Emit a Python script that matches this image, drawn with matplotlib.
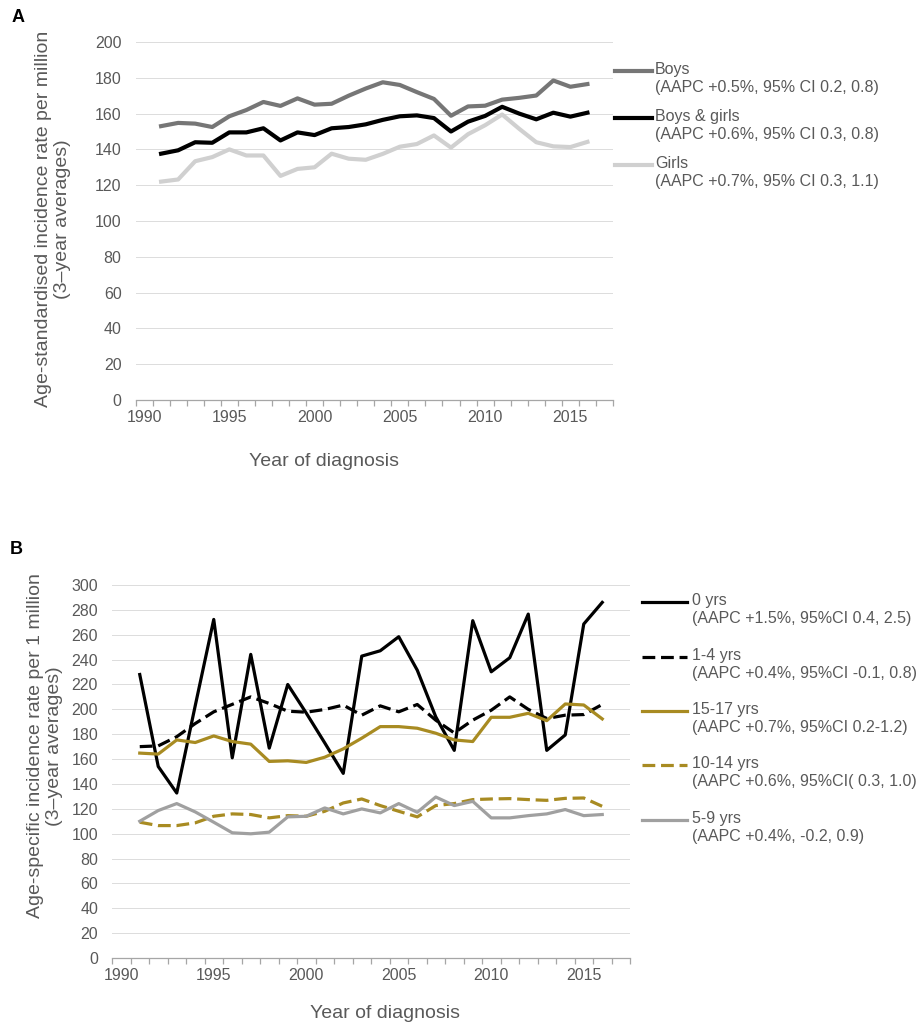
import numpy as np
import matplotlib
matplotlib.use("Agg")
import matplotlib.pyplot as plt
from matplotlib.lines import Line2D

plt.rcParams['font.family'] = ['Liberation Sans', 'DejaVu Sans']

# ----------------------------------------------------------------------
# data: 3-year average incidence rates per million, 1991-2016

years = list(range(1991, 2017))

boys = [153, 154.8, 154.4, 152.5, 158.5, 162, 166.5, 164.3, 168.5, 165,
        165.5, 170, 174, 177.5, 176, 172, 168.2, 158.8, 164, 164.4,
        167.8, 168.8, 170.1, 178.5, 175, 176.5]
boys_girls = [137.6, 139.5, 144, 143.7, 149.5, 149.5, 151.8, 145, 149.5, 148,
              151.8, 152.5, 154, 156.5, 158.5, 159, 157.5, 150, 155.5, 158.7,
              163.8, 160, 156.8, 160.5, 158.3, 160.5]
girls = [122, 123.2, 133.4, 135.7, 140, 136.6, 136.6, 125.2, 129.1, 130,
         137.6, 134.8, 134.2, 137.5, 141.5, 143, 147.8, 141, 148.5, 153.5,
         159.5, 151.5, 144, 141.7, 141.3, 144.2]

age_0 = [228, 154, 132.7, 203, 272.3, 161, 244.2, 168.8, 220, 197,
         173, 148.5, 242.8, 247.1, 258.4, 231.5, 194, 167, 271.3, 230.2,
         241.5, 276.6, 167, 179.4, 268.6, 286]
age_1_4 = [170, 170.6, 178, 188.6, 198, 204, 210, 204.7, 198.5, 197.7,
           199.9, 203.4, 195.3, 202.8, 198, 203.9, 191.3, 181, 191.3, 199.3,
           210, 200, 192.6, 195.3, 195.8, 203.9]
age_15_17 = [164.8, 164, 175.4, 173.3, 178.6, 174.1, 172, 158.1, 158.6, 157.3,
             161.5, 168.2, 176.8, 186.1, 186.1, 184.8, 180.8, 175.4, 174.1, 193.6,
             193.6, 196.8, 190.9, 204.3, 203.5, 192.3]
age_10_14 = [109.2, 106.5, 106.5, 108.7, 114, 115.9, 115.4, 112.7, 114.5, 114,
             118, 124.7, 127.9, 122.6, 118, 113.5, 122.6, 124.2, 127.4, 127.9,
             128.2, 127.4, 126.8, 128.4, 128.7, 122]
age_5_9 = [110, 118.6, 124.2, 117.5, 109.2, 100.7, 99.9, 101.2, 113.5, 114,
           120.7, 115.9, 119.9, 116.7, 124.2, 117.2, 129.5, 122.6, 126, 112.7,
           112.7, 114.5, 115.9, 119.4, 114.5, 115.4]

labels_a = ["Boys\n(AAPC +0.5%, 95% CI 0.2, 0.8)",
            "Boys & girls\n(AAPC +0.6%, 95% CI 0.3, 0.8)",
            "Girls\n(AAPC +0.7%, 95% CI 0.3, 1.1)"]
labels_b = ["0 yrs\n(AAPC +1.5%, 95%CI 0.4, 2.5)",
            "1-4 yrs\n(AAPC +0.4%, 95%CI -0.1, 0.8)",
            "15-17 yrs\n(AAPC +0.7%, 95%CI 0.2-1.2)",
            "10-14 yrs\n(AAPC +0.6%, 95%CI( 0.3, 1.0)",
            "5-9 yrs\n(AAPC +0.4%, -0.2, 0.9)"]

# ----------------------------------------------------------------------

W, H = 917, 1025
GREY_TXT = '#595959'
GOLD = '#a88b22'

fig = plt.figure(figsize=(W / 100, H / 100), dpi=100)


def fx(px):
    return px / W


def fy(py):
    return 1 - py / H


def style_axis(ax, ymax, ystep):
    ax.set_xlim(1989.5, 2017.5)
    ax.set_ylim(0, ymax)
    ax.set_yticks(range(0, ymax + 1, ystep))
    ax.yaxis.grid(True, color='#dcdcdc', lw=0.7)
    ax.set_axisbelow(True)
    for s in ['top', 'right', 'left']:
        ax.spines[s].set_visible(False)
    ax.spines['bottom'].set_color('#a6a6a6')
    ax.spines['bottom'].set_linewidth(0.9)
    # tick marks between categories, labels on the years
    ax.set_xticks(np.arange(1989.5, 2018, 1))
    ax.set_xticklabels([])
    ax.set_xticks(range(1990, 2016, 5), minor=True)
    ax.set_xticklabels([str(y) for y in range(1990, 2016, 5)], minor=True)
    ax.tick_params(axis='x', which='major', length=4, color='#a6a6a6', width=0.9)
    ax.tick_params(axis='x', which='minor', length=0, pad=7,
                   labelsize=11.5, labelcolor=GREY_TXT)
    ax.tick_params(axis='y', length=0, pad=10, labelsize=11.5, labelcolor=GREY_TXT)


def legend_rows(x0, x1, xt, rows, styles, labels, lw):
    for y, (color, ls), lab in zip(rows, styles, labels):
        fig.add_artist(Line2D([fx(x0), fx(x1)], [fy(y), fy(y)], color=color,
                              lw=lw, linestyle=ls, transform=fig.transFigure))
        fig.text(fx(xt), fy(y - 9), lab, ha='left', va='top', fontsize=11.5,
                 color=GREY_TXT, linespacing=1.25)


# ======================================================================
# A: all ages by sex

ax1 = fig.add_axes([fx(135.5), fy(400), 477.5 / W, 358 / H])
style_axis(ax1, 200, 20)
ax1.plot(years, boys, color='#767676', lw=3)
ax1.plot(years, boys_girls, color='black', lw=3)
ax1.plot(years, girls, color='#d0d0d0', lw=3)

fig.text(fx(12), fy(18), 'A', fontsize=13, fontweight='bold', va='center')
fig.text(fx(53), fy(219), 'Age-standardised incidence rate per million\n(3\u2013year averages)',
         rotation=90, ha='center', va='center', fontsize=14, color=GREY_TXT,
         linespacing=1.2)
fig.text(fx(324), fy(462), 'Year of diagnosis', ha='center', va='center',
         fontsize=14, color=GREY_TXT)

legend_rows(615, 652, 655, [71, 118, 165],
            [('#767676', '-'), ('black', '-'), ('#d0d0d0', '-')], labels_a, 3)

# ======================================================================
# B: by age group

dash = (0, (4, 1.8))
series_b = [(age_0, 'black', '-'), (age_1_4, 'black', dash),
            (age_15_17, GOLD, '-'), (age_10_14, GOLD, dash),
            (age_5_9, '#a0a0a0', '-')]

ax2 = fig.add_axes([fx(112), fy(958), 518 / W, 373 / H])
style_axis(ax2, 300, 20)
for vals, color, ls in series_b:
    ax2.plot(years, vals, color=color, lw=2.3, linestyle=ls)

fig.text(fx(10), fy(549), 'B', fontsize=13, fontweight='bold', va='center')
fig.text(fx(45), fy(746), 'Age-specific incidence rate per 1 million\n(3\u2013year averages)',
         rotation=90, ha='center', va='center', fontsize=14, color=GREY_TXT,
         linespacing=1.2)
fig.text(fx(385), fy(1013), 'Year of diagnosis', ha='center', va='center',
         fontsize=14, color=GREY_TXT)

legend_rows(642, 687, 692, [602, 657, 711, 765, 820],
            [(c, ls) for _, c, ls in series_b], labels_b, 2.3)

fig.savefig('out.png', dpi=100)
